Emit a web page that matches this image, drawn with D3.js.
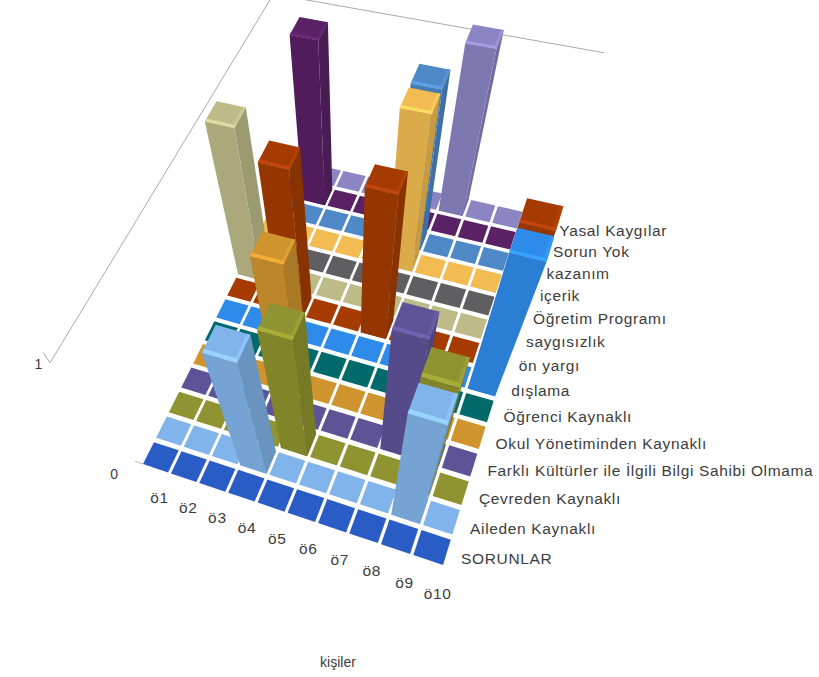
<!DOCTYPE html>
<html><head><meta charset="utf-8">
<script src="https://cdn.jsdelivr.net/npm/d3@7"></script>
<style>html,body{margin:0;background:#fff}svg{display:block}text{font-family:"Liberation Sans",Arial,sans-serif;fill:#3c3c3c}</style>
</head><body><svg id="c" width="819" height="677"></svg>
<script>
const persons=["ö1","ö2","ö3","ö4","ö5","ö6","ö7","ö8","ö9","ö10"];
const seriesNames=["SORUNLAR","Aileden Kaynaklı","Çevreden Kaynaklı","Farklı Kültürler ile İlgili Bilgi Sahibi Olmama","Okul Yönetiminden Kaynaklı","Öğrenci Kaynaklı","dışlama","ön yargı","saygısızlık","Öğretim Programı","içerik","kazanım","Sorun Yok","Yasal Kaygılar"];
const seriesColors=["#2c5cc6","#80b4ea","#8f9330","#5e5398","#d0942e","#04696b","#2e8bea","#a53a06","#bdbb88","#5e5e62","#f2bc52","#4f88c6","#5a2065","#8b85c4"];
const sorunlar=[0,0,0,0,0,0,0,0,0,0];
const aileden=[0,0,0,1,0,0,0,0,1,0];
const cevreden=[0,0,0,0,1,0,0,0,1,0];
const farkli=[0,0,0,0,0,0,0,1,0,0];
const okul=[0,0,0,1,0,0,0,0,0,0];
const ogrenci=[0,0,0,0,0,0,0,0,0,0];
const dislama=[0,0,0,0,0,0,0,0,0,1];
const onYargi=[0,0,1,0,0,1,0,0,0,1];
const saygisizlik=[1,0,0,0,0,0,0,0,0,0];
const ogretim=[0,0,0,0,0,0,0,0,0,0];
const icerik=[0,0,0,0,0,1,0,0,0,0];
const kazanim=[0,0,0,0,0,1,0,0,0,0];
const sorunYok=[0,1,0,0,0,0,0,0,0,0];
const yasal=[0,0,0,0,0,0,1,0,0,0];
const seriesValues=[sorunlar,aileden,cevreden,farkli,okul,ogrenci,dislama,onYargi,saygisizlik,ogretim,icerik,kazanim,sorunYok,yasal];
const zTicks=[0,1];

// perspective camera: floor quad + vertical vanishing point
const A=[143,464],B=[443,565],C=[550,218],D=[295,160],V=[348,780];
function homography(){
  const dx1=B[0]-C[0],dx2=D[0]-C[0],sx=A[0]-B[0]+C[0]-D[0];
  const dy1=B[1]-C[1],dy2=D[1]-C[1],sy=A[1]-B[1]+C[1]-D[1];
  const det=dx1*dy2-dx2*dy1;
  const g=(sx*dy2-dx2*sy)/det,h=(dx1*sy-sx*dy1)/det;
  return [B[0]-A[0]+g*B[0],D[0]-A[0]+h*D[0],A[0],B[1]-A[1]+g*B[1],D[1]-A[1]+h*D[1],A[1],g,h,1];
}
const H=homography();
const w0=H[6]*.5+H[7]*.5+1;
const x=d3.scaleBand(persons,[0,1]).paddingInner(.1).paddingOuter(0);
const y=d3.scaleBand(seriesNames,[0,1]).paddingInner(.17).paddingOuter(0);
const z=d3.scaleLinear([0,1],[0,-.245*w0]);
function P(u,v,val){
  const a=z(val);
  const X=H[0]*u+H[1]*v+H[2],Y=H[3]*u+H[4]*v+H[5],W=H[6]*u+H[7]*v+H[8];
  return [(X+a*V[0])/(W+a),(Y+a*V[1])/(W+a)];
}
const svg=d3.select("#c");
const defs=svg.append("defs");
defs.append("filter").attr("id","soft").append("feGaussianBlur").attr("stdDeviation",.45);
const root=svg.append("g").attr("filter","url(#soft)");
const line=d3.line();
const poly=(pts,fill,g=root)=>g.append("path").attr("d",line(pts)+"Z").attr("fill",fill);
const area=p=>d3.polygonArea(p);

// walls
const wall=[[-.065,-.015,1],[-.035,-.03,1],[-.015,.985,1],[.985,.985,1]].map(d=>P(...d));
root.append("path").attr("d",line(wall)).attr("fill","none").attr("stroke","#a9a9a9").attr("stroke-width",1);
root.append("path").attr("d",line([P(-.03,0,0),P(0,0,0)])).attr("fill","none").attr("stroke","#bdbdbd");

// tiles
const cells=[];
seriesNames.forEach((s,r)=>persons.forEach((p,c)=>cells.push({s,p,r,c,val:seriesValues[r][c],col:seriesColors[r]})));
cells.forEach(d=>{
  const u0=x(d.p),u1=u0+x.bandwidth(),v0=y(d.s),v1=v0+y.bandwidth();
  poly([P(u0,v0,0),P(u1,v0,0),P(u1,v1,0),P(u0,v1,0)],d.col);
});
// bars, back row first
cells.filter(d=>d.val>0).sort((a,b)=>b.r-a.r).forEach(d=>{
  const u0=x(d.p),u1=u0+x.bandwidth(),v0=y(d.s),v1=v0+y.bandwidth(),t=d.val;
  const c=d3.color(d.col);
  const front=[P(u0,v0,0),P(u1,v0,0),P(u1,v0,t),P(u0,v0,t)];
  const right=[P(u1,v0,0),P(u1,v1,0),P(u1,v1,t),P(u1,v0,t)];
  const left=[P(u0,v1,0),P(u0,v0,0),P(u0,v0,t),P(u0,v1,t)];
  const ref=area(front);
  if(area(right)*ref>0) poly(right,c.darker(.55).formatHex());
  if(area(left)*ref>0) poly(left,c.darker(.55).formatHex());
  poly(front,c.darker(.28).formatHex());
  poly([P(u0,v0,t),P(u1,v0,t),P(u1,v1,t),P(u0,v1,t)],c.formatHex());
  const b=.14*(v1-v0), e=.1*(u1-u0);
  poly([P(u0,v0,t),P(u1,v0,t),P(u1,v0+b,t),P(u0,v0+b,t)],c.brighter(.45).formatHex());
  poly([P(u1-e,v0+b,t),P(u1,v0+b,t),P(u1,v1,t),P(u1-e,v1,t)],c.brighter(.22).formatHex());
});

// labels
const txt=svg.append("g").attr("font-size",15.5).attr("letter-spacing",.65);
persons.forEach(p=>{
  const q=P(x(p)+x.bandwidth()/2+.053,-.058,0);
  txt.append("text").attr("x",q[0]).attr("y",q[1]+8).attr("text-anchor","middle").text(p);
});
seriesNames.forEach(s=>{
  const q=P(1.043,y(s)+y.bandwidth()/2,0);
  txt.append("text").attr("x",q[0]).attr("y",q[1]+7).text(s);
});
zTicks.forEach(t=>{
  const q=P(-.09,0,t);
  txt.append("text").attr("x",q[0]-(t?0:4)).attr("y",q[1]+(t?26:23)).attr("text-anchor","middle").attr("font-size",14).text(t);
});
txt.append("text").attr("x",338).attr("y",667).attr("text-anchor","middle").attr("font-size",14).attr("letter-spacing",0).text("kişiler");
</script></body></html>
